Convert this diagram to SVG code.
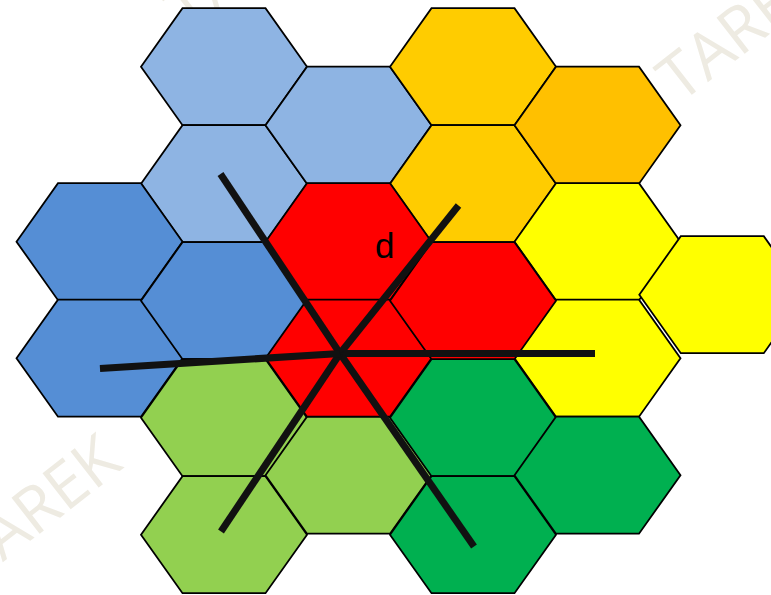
<svg xmlns="http://www.w3.org/2000/svg" width="771" height="595" viewBox="0 0 771 595">
<style>
.hex{stroke:#000;stroke-width:1.8;stroke-linejoin:miter}
.lb{fill:#8EB4E3}.db{fill:#558ED5}.rd{fill:#FF0000}.or{fill:#FFCC00}.or2{fill:#FFC000}
.ye{fill:#FFFF00}.lg{fill:#92D050}.gr{fill:#00B050}
.ray{stroke:#111;stroke-width:7;stroke-linecap:butt;fill:none}
.wm{fill:#EEEBE2;font-family:"Open Sans","Liberation Sans",sans-serif;font-size:64px}
.lbl{fill:#000;font-family:"Liberation Sans",Arial,sans-serif;font-size:35px}
</style>
<defs>
<path id="hex" d="M-83,0 L-41.5,-58.5 L41.5,-58.5 L83,0 L41.5,58.5 L-41.5,58.5 Z"/>
</defs>
<rect width="771" height="595" fill="#fff"/>
<g id="watermark">
<text class="wm" x="0" y="0" transform="translate(-25,584) rotate(-38)">TAREK</text>
<text class="wm" x="0" y="0" transform="translate(680,104) rotate(-38)">TAREK</text>
<text class="wm" x="0" y="0" transform="translate(188,34) rotate(-38)">TAREK</text>
</g>
<g id="cluster-lightblue">
<use id="h1" href="#hex" class="hex lb" x="224" y="66.7"/>
<use id="h2" href="#hex" class="hex lb" x="224" y="183.7"/>
<use id="h3" href="#hex" class="hex lb" x="348.5" y="125.2"/>
</g>
<g id="cluster-darkblue">
<use id="h4" href="#hex" class="hex db" x="99.5" y="241.7"/>
<use id="h5" href="#hex" class="hex db" x="99.5" y="358.2"/>
<use id="h6" href="#hex" class="hex db" x="224" y="300.7"/>
</g>
<g id="cluster-lightgreen">
<use id="h7" href="#hex" class="hex lg" x="224" y="417.7"/>
<use id="h8" href="#hex" class="hex lg" x="224" y="534.7"/>
<use id="h9" href="#hex" class="hex lg" x="348.5" y="475.2"/>
</g>
<g id="cluster-orange">
<use id="h10" href="#hex" class="hex or" x="473" y="66.7"/>
<use id="h11" href="#hex" class="hex or" x="473" y="183.7"/>
<use id="h12" href="#hex" class="hex or2" x="597.5" y="125.2"/>
</g>
<g id="cluster-yellow">
<use id="h13" href="#hex" class="hex ye" x="597.5" y="241.7"/>
<use id="h14" href="#hex" class="hex ye" x="597.5" y="358.2"/>
<use id="h15" href="#hex" class="hex ye" x="722.3" y="294.7"/>
</g>
<g id="cluster-green">
<use id="h16" href="#hex" class="hex gr" x="473" y="417.7"/>
<use id="h17" href="#hex" class="hex gr" x="473" y="534.7"/>
<use id="h18" href="#hex" class="hex gr" x="597.5" y="475.2"/>
</g>
<g id="cluster-red">
<use id="h19" href="#hex" class="hex rd" x="348.5" y="241.7"/>
<use id="h20" href="#hex" class="hex rd" x="348.5" y="358.2"/>
<use id="h21" href="#hex" class="hex rd" x="473" y="300.7"/>
</g>
<g id="connectors">
<line class="ray" x1="340" y1="353.5" x2="220.5" y2="174"/>
<line class="ray" x1="340" y1="353.5" x2="458.5" y2="205.5"/>
<line class="ray" x1="340" y1="353.5" x2="595" y2="353.5"/>
<line class="ray" x1="340" y1="353.5" x2="474" y2="546.5"/>
<line class="ray" x1="340" y1="353.5" x2="221" y2="531.5"/>
<line class="ray" x1="340" y1="353.5" x2="100" y2="368.5"/>
</g>
<g id="label-d">
<text class="lbl" x="375" y="258">d</text>
</g>
</svg>
